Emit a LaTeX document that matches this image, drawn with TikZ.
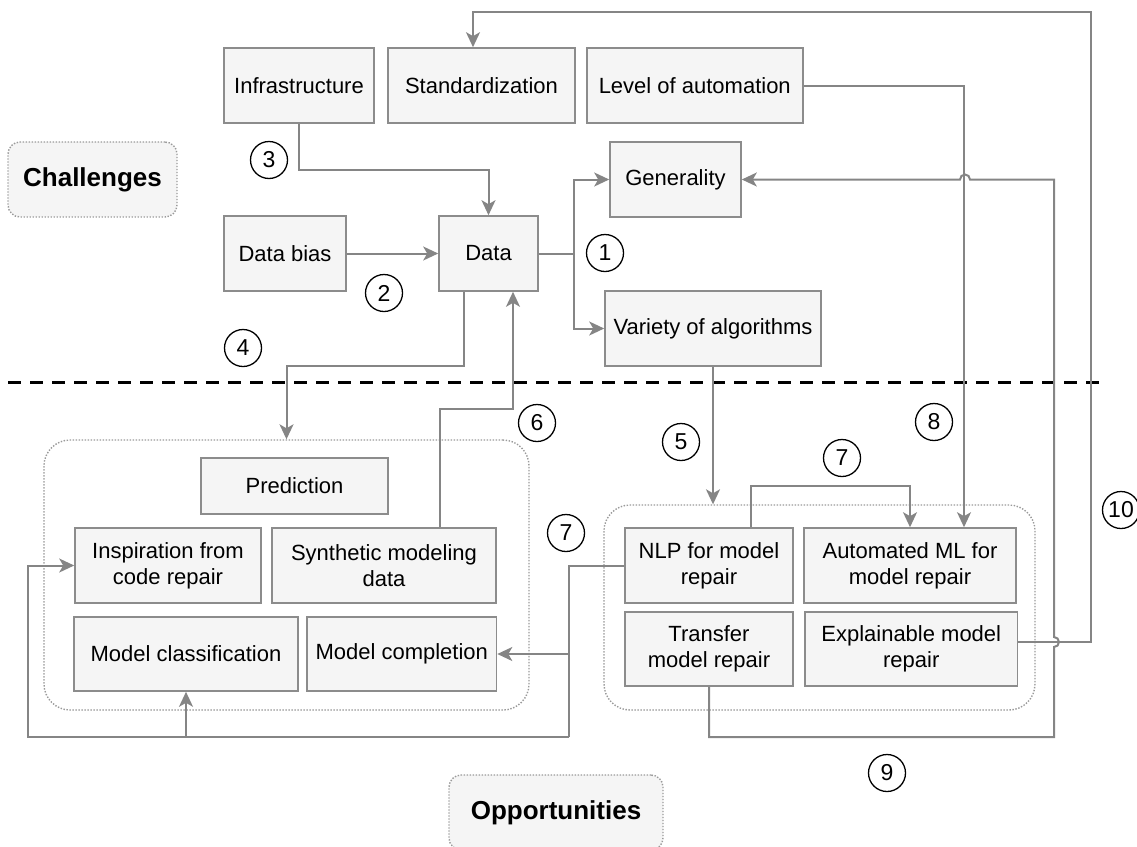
\documentclass[tikz,border=0pt]{standalone}
\usepackage{fontspec}
\setmainfont{Liberation Sans}
\usetikzlibrary{arrows.meta}
\definecolor{linegray}{HTML}{858585}
\definecolor{boxline}{HTML}{8C8C8C}
\definecolor{boxfill}{HTML}{F5F5F5}
\definecolor{groupline}{HTML}{9A9A9A}
\begin{document}
\begin{tikzpicture}[x=1pt,y=-1pt,
  box/.style={draw=boxline, fill=boxfill, line width=1.6pt, inner sep=0pt,
    align=center, font=\fontsize{22}{26}\selectfont},
  group/.style={draw=groupline, line width=1.4pt, dash pattern=on 1.4pt off 1.6pt,
    rounded corners=26pt, inner sep=0pt},
  title/.style={draw=groupline, fill=boxfill, line width=1.4pt, dash pattern=on 1.4pt off 1.6pt,
    rounded corners=12pt, inner sep=0pt, minimum height=75pt,
    font=\fontsize{26}{30}\selectfont\bfseries},
  num/.style={circle, draw=black, line width=1.3pt, minimum size=37pt, inner sep=0pt,
    font=\fontsize{23}{23}\selectfont},
  conn/.style={draw=linegray, line width=2pt},
  arr/.style={conn, -{Stealth[length=15pt, width=14pt, inset=4pt]}, linegray}]

\useasboundingbox (0,0) rectangle (1137,846);
\clip (0,0) rectangle (1137,846);

% challenge boxes
\node[box, minimum width=150pt, minimum height=75pt] (infra) at (299,85.5) {Infrastructure};
\node[box, minimum width=187pt, minimum height=75pt] (stand) at (481.5,85.5) {Standardization};
\node[box, minimum width=216pt, minimum height=75pt] (level) at (694.75,85.5) {Level of automation};
\node[title, minimum width=169pt] (chall) at (92.5,179.5) {Challenges};
\node[box, minimum width=122pt, minimum height=75pt] (bias) at (285,253.5) {Data bias};
\node[box, minimum width=99pt, minimum height=75pt] (data) at (488.5,253.5) {Data};
\node[box, minimum width=131pt, minimum height=75pt] (gen) at (675.5,179.5) {Generality};
\node[box, minimum width=216pt, minimum height=75pt] (var) at (713,328.5) {Variety of algorithms};

% separator between challenges and opportunities
\draw[line width=3pt, dash pattern=on 13pt off 9pt] (8,382) -- (1100,382);

% opportunity groups
\node[group, minimum width=485pt, minimum height=270pt] (left) at (286.5,575) {};
\node[group, minimum width=431pt, minimum height=205pt] (right) at (819.5,607.5) {};

\node[box, minimum width=187pt, minimum height=56pt] (pred) at (294.5,486) {Prediction};
\node[box, minimum width=186pt, minimum height=75pt] (insp) at (168,565.5) {Inspiration from\\code repair};
\node[box, minimum width=224pt, minimum height=75pt] (synth) at (384,565.5) {Synthetic modeling\\data};
\node[box, minimum width=224pt, minimum height=74pt] (mclass) at (186,654) {Model classification};
\node[box, minimum width=189.5pt, minimum height=74pt] (mcomp) at (401.75,654) {Model completion};

\node[box, minimum width=168pt, minimum height=75pt] (nlp) at (709,565.5) {NLP for model\\repair};
\node[box, minimum width=212pt, minimum height=75pt] (auto) at (910,565.5) {Automated ML for\\model repair};
\node[box, minimum width=168pt, minimum height=74pt] (trans) at (709,649) {Transfer\\model repair};
\node[box, minimum width=212.5pt, minimum height=74pt] (expl) at (911.25,649) {Explainable model\\repair};

\node[title, minimum width=214pt] (opp) at (556,812.5) {Opportunities};

% connectors
\draw[arr] (infra.south) -- (299,170) -| (data.north);
\draw[arr] (bias.east) -- (data.west);
\coordinate (split) at (574,253.5);
\draw[conn] (data.east) -- (split);
\draw[arr] (split) |- (gen.west);
\draw[arr] (split) |- (var.west);
\draw[arr] ([xshift=-24.5pt]data.south) -- ++(0,74) -| (left.north);
\coordinate (s6) at (513,409);
\draw[arr] ([xshift=56pt]synth.north) |- (s6) -- (s6 |- data.south);
\draw[arr] (var.south) -- (var.south |- right.north);
\draw[arr] ([xshift=42pt]nlp.north) -- ++(0,-41) -| (auto.north);
\draw[arr] (level.east) -| ([xshift=54pt]auto.north);

\coordinate (v7) at (569,654);
\coordinate (b7) at (569,737);
\draw[conn] (nlp.west) -| (b7);
\draw[arr] (v7) -- (mcomp.east);
\draw[arr] (b7) -- (28,737) |- (insp.west);
\draw[arr] (mclass.south |- b7) -- (mclass.south);

% transfer repair back to generality, hopping over two crossing lines
\draw[arr] (trans.south) |- (1054,737) -- (1054,647)
  arc[start angle=-90, end angle=90, radius=5pt] -- (1054,179.5) -- (970,179.5)
  arc[start angle=0, end angle=180, radius=5pt] -- (gen.east);
\draw[arr] ([yshift=7pt]expl.east) -- (1091,642) -- (1091,12)
  -| ([xshift=-8.5pt]stand.north);

% numbered markers
\node[num] (n1) at (605,253) {1};
\node[num] (n2) at (384,293) {2};
\node[num] (n3) at (269,160) {3};
\node[num] (n4) at (243,348) {4};
\node[num] (n5) at (681,442) {5};
\node[num] (n6) at (537,423) {6};
\node[num] (n7a) at (566,533) {7};
\node[num] (n7b) at (842,458) {7};
\node[num] (n8) at (934,422) {8};
\node[num] (n9) at (887,773) {9};
\node[num] (n10) at (1121,510) {10};
\end{tikzpicture}
\end{document}
